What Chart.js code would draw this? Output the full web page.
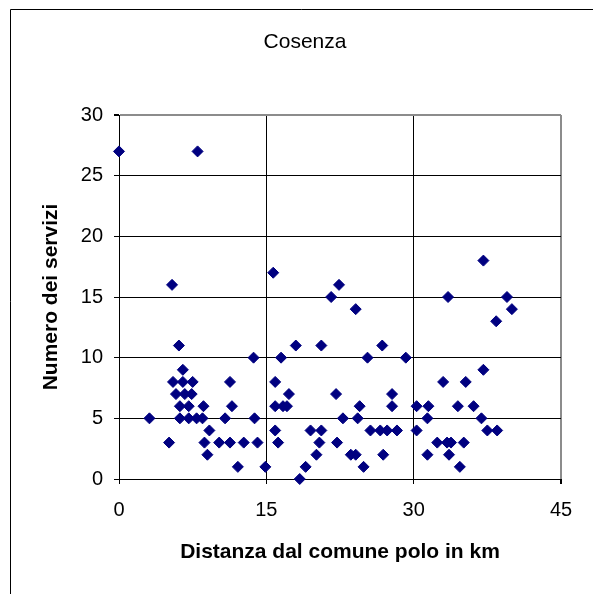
<!DOCTYPE html>
<html>
<head>
<meta charset="utf-8">
<title>Cosenza</title>
<script src="https://cdn.jsdelivr.net/npm/chart.js@4.4.1/dist/chart.umd.min.js"></script>
<style>
  html, body { margin: 0; padding: 0; background: #fff; }
  canvas { display: block; }
</style>
</head>
<body>
<canvas id="grafico" width="593" height="594"></canvas>
<script>
// Comuni della provincia: distanza dal polo (km) e numero dei servizi
var distanze = [
  0, 8, 5.4, 15.7, 6.1, 13.7, 16.5, 6.5, 5.5, 6.5, 7.5, 11.3,
  15.9, 5.8, 6.7, 7.4, 6.2, 7.1, 8.6, 11.5, 15.9, 16.7, 17.1, 3.1,
  6.2, 7.1, 7.9, 8.5, 10.8, 13.8, 9.2, 15.9, 5.1, 8.7, 10.2, 11.3,
  12.7, 14.1, 16.2, 9.0, 12.1, 14.9, 22.4, 21.6, 24.1, 18.0, 20.6, 26.8,
  25.3, 29.2, 17.3, 22.1, 27.8, 24.5, 27.8, 30.3, 22.8, 24.3, 19.5, 20.6,
  25.6, 26.6, 27.3, 28.3, 30.3, 20.4, 22.2, 20.1, 23.6, 24.1, 26.9, 19.0,
  24.9, 18.4, 37.1, 33.5, 39.5, 40.0, 38.4, 37.1, 33.0, 35.3, 31.5, 34.5,
  36.1, 31.4, 36.9, 37.5, 38.5, 32.4, 33.4, 33.8, 35.1, 31.4, 33.6, 34.7
];
var servizi = [
  27, 27, 16, 17, 11, 10, 10, 9, 8, 8, 8, 8,
  8, 7, 7, 7, 6, 6, 6, 6, 6, 6, 6, 5,
  5, 5, 5, 5, 5, 5, 4, 4, 3, 3, 3, 3,
  3, 3, 3, 2, 1, 1, 16, 15, 14, 11, 11, 11,
  10, 10, 7, 7, 7, 6, 6, 6, 5, 5, 4, 4,
  4, 4, 4, 4, 4, 3, 3, 2, 2, 2, 2, 1,
  1, 0, 18, 15, 15, 14, 13, 9, 8, 8, 6, 6,
  6, 5, 5, 4, 4, 3, 3, 3, 3, 2, 2, 1
];
var tickX = [0, 15, 30, 45];
var tickY = [0, 5, 10, 15, 20, 25, 30];

var FONT = "'Liberation Sans', Arial, sans-serif";
var GRIGIO = '#8c8c8c';

var punti = distanze.map(function(d, i) { return { x: d, y: servizi[i] }; });

// cornice esterna e titolo
var cornice = {
  id: 'cornice',
  beforeDraw: function(chart) {
    var ctx = chart.ctx;
    ctx.save();
    ctx.fillStyle = '#fff';
    ctx.fillRect(0, 0, chart.width, chart.height);
    ctx.strokeStyle = '#000';
    ctx.lineWidth = 1;
    ctx.beginPath();
    ctx.moveTo(10.5, chart.height);
    ctx.lineTo(10.5, 9.5);
    ctx.lineTo(chart.width, 9.5);
    ctx.stroke();
    ctx.fillStyle = '#000';
    ctx.font = '21px ' + FONT;
    ctx.textAlign = 'center';
    ctx.textBaseline = 'middle';
    ctx.fillText('Cosenza', 305, 42);
    ctx.restore();
  }
};

var ctx = document.getElementById('grafico').getContext('2d');
var grafico = new Chart(ctx, {
  type: 'scatter',
  data: {
    datasets: [{
      label: 'Cosenza',
      data: punti,
      pointStyle: 'rectRot',
      pointRadius: 5.5,
      pointHoverRadius: 5.5,
      pointBorderWidth: 1,
      backgroundColor: '#000080',
      borderColor: '#000080',
      clip: false
    }]
  },
  options: {
    responsive: false,
    animation: false,
    layout: { padding: { left: 0, top: 115, right: 32, bottom: 0 } },
    plugins: {
      legend: { display: false },
      tooltip: { enabled: false }
    },
    scales: {
      x: {
        type: 'linear',
        min: 0,
        max: 45,
        afterFit: function(s) { s.height = 115; },
        afterBuildTicks: function(s) { s.ticks = tickX.map(function(v) { return { value: v }; }); },
        ticks: { color: '#000', font: { family: FONT, size: 20 }, padding: 14, maxRotation: 0 },
        grid: {
          color: function(c) { return c.tick && c.tick.value === 45 ? GRIGIO : '#000'; },
          lineWidth: function(c) { return c.tick && c.tick.value === 45 ? 2 : 1; },
          tickColor: '#000',
          tickLength: 5
        },
        border: { color: '#000', width: 1 },
        title: {
          display: true,
          text: 'Distanza dal comune polo in km',
          color: '#000',
          font: { family: FONT, size: 21, weight: 'bold' },
          padding: { top: 0, bottom: 29 }
        }
      },
      y: {
        type: 'linear',
        min: 0,
        max: 30,
        afterFit: function(s) { s.width = 119; },
        afterBuildTicks: function(s) { s.ticks = tickY.map(function(v) { return { value: v }; }); },
        ticks: { color: '#000', font: { family: FONT, size: 20 }, padding: 11 },
        grid: {
          color: function(c) { return c.tick && c.tick.value === 30 ? GRIGIO : '#000'; },
          lineWidth: function(c) { return c.tick && c.tick.value === 30 ? 2 : 1; },
          tickColor: '#000',
          tickLength: 5
        },
        border: { color: '#000', width: 1 },
        title: {
          display: true,
          text: 'Numero dei servizi',
          color: '#000',
          font: { family: FONT, size: 21, weight: 'bold' },
          padding: { top: 39, bottom: 0 }
        }
      }
    }
  },
  plugins: [cornice]
});
</script>
</body>
</html>
